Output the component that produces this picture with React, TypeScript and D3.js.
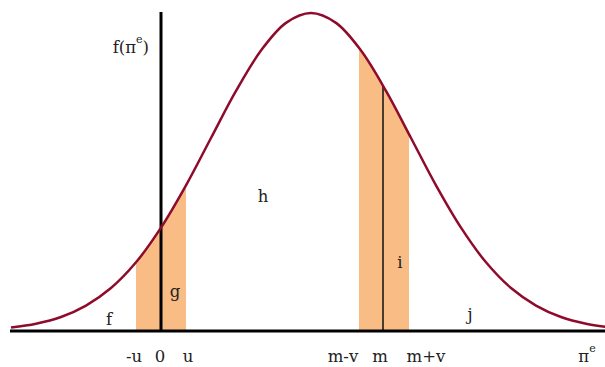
import React, { useEffect, useRef } from 'react';
import * as d3 from 'd3';

// curve: position in standard units, relative height
const curveZ = [-3, -2.75, -2.5, -2.25, -2, -1.75, -1.5, -1.25, -1, -0.75, -0.5, -0.25, 0,
    0.25, 0.5, 0.75, 1, 1.25, 1.5, 1.75, 2, 2.25, 2.5, 2.75, 3];
const curveDensity = [0.011, 0.023, 0.044, 0.08, 0.135, 0.216, 0.325, 0.458, 0.607, 0.755, 0.882, 0.969, 1,
    0.969, 0.882, 0.755, 0.607, 0.458, 0.325, 0.216, 0.135, 0.08, 0.044, 0.023, 0.011];

// shaded bands: [-u, u] around 0 and [m-v, m+v] around m
const bandFrom = [-1.75, 0.48];
const bandTo = [-1.25, 0.98];
const meanZ = 0.72;
const originZ = -1.5;

const tickLabels = ['-u', '0', 'u', 'm-v', 'm', 'm+v', 'π'];
const tickZ = [-1.77, -1.51, -1.23, 0.32, 0.69, 1.15, 2.76];

const regionLabels = ['f', 'g', 'h', 'i', 'j'];
const regionZ = [-2.02, -1.36, -0.48, 0.89, 1.59];
const regionDensity = [0.019, 0.107, 0.406, 0.198, 0.035];

const App = () => {
    const ref = useRef<SVGSVGElement>(null);

    useEffect(() => {
        const width = 605;
        const svg = d3.select(ref.current);
        svg.selectAll('*').remove();

        const xScale = d3.scaleLinear().domain([-3, 3]).range([11, 611]);
        const yScale = d3.scaleLinear().domain([0, 1]).range([331, 13]);

        const pts = curveZ.map((z, i) => [z, curveDensity[i]] as [number, number]);

        // area under the curve, used to cut the bands and the m line
        const area = d3.area<[number, number]>()
            .x(d => xScale(d[0]))
            .y0(yScale(0))
            .y1(d => yScale(d[1]))
            .curve(d3.curveCatmullRom);
        svg.append('clipPath').attr('id', 'under')
            .append('path').attr('d', area(pts));

        const bands = svg.append('g').attr('clip-path', 'url(#under)');
        bands.selectAll('rect')
            .data(bandFrom)
            .enter()
            .append('rect')
            .attr('x', d => xScale(d))
            .attr('width', (d, i) => xScale(bandTo[i]) - xScale(d))
            .attr('y', 0)
            .attr('height', yScale(0))
            .attr('fill', '#f8bc84');
        bands.append('line')
            .attr('x1', xScale(meanZ)).attr('x2', xScale(meanZ))
            .attr('y1', 0).attr('y2', yScale(0))
            .attr('stroke', '#111').attr('stroke-width', 1.5);

        // axes
        svg.append('line')
            .attr('x1', xScale(-3) - 1).attr('x2', width)
            .attr('y1', yScale(0)).attr('y2', yScale(0))
            .attr('stroke', '#000').attr('stroke-width', 3);
        svg.append('line')
            .attr('x1', xScale(originZ)).attr('x2', xScale(originZ))
            .attr('y1', yScale(0)).attr('y2', yScale(1) - 1)
            .attr('stroke', '#000').attr('stroke-width', 3);

        const line = d3.line<[number, number]>()
            .x(d => xScale(d[0]))
            .y(d => yScale(d[1]))
            .curve(d3.curveCatmullRom);
        svg.append('path')
            .attr('d', line(pts))
            .attr('fill', 'none')
            .attr('stroke', '#8e0b2c')
            .attr('stroke-width', 2.5);

        const font = '"DejaVu Serif", serif';
        const size = 16.5;

        const ticks = svg.append('g')
            .attr('font-family', font).attr('font-size', size).attr('fill', '#222');
        ticks.selectAll('text')
            .data(tickLabels)
            .enter()
            .append('text')
            .attr('x', (d, i) => xScale(tickZ[i]))
            .attr('y', 362)
            .attr('text-anchor', 'middle')
            .each(function (d) {
                const t = d3.select(this);
                t.append('tspan').text(d);
                if (d === 'π') {
                    t.append('tspan').attr('dy', -10).attr('font-size', 11).text('e');
                }
            });

        svg.append('g')
            .attr('font-family', font).attr('font-size', size).attr('fill', '#222')
            .selectAll('text')
            .data(regionLabels)
            .enter()
            .append('text')
            .attr('x', (d, i) => xScale(regionZ[i]))
            .attr('y', (d, i) => yScale(regionDensity[i]))
            .attr('text-anchor', 'middle')
            .text(d => d);

        const yTitle = svg.append('text')
            .attr('font-family', font).attr('font-size', size).attr('fill', '#222')
            .attr('x', xScale(originZ) - 12).attr('y', 53)
            .attr('text-anchor', 'end');
        yTitle.append('tspan').text('f(π');
        yTitle.append('tspan').attr('dy', -10).attr('font-size', 11).text('e');
        yTitle.append('tspan').attr('dy', 10).text(')');
    }, []);

    return (
        <svg ref={ref} width={605} height={367}
            style={{ position: 'absolute', left: 0, top: 0, background: '#fff' }} />
    );
};

export default App;
